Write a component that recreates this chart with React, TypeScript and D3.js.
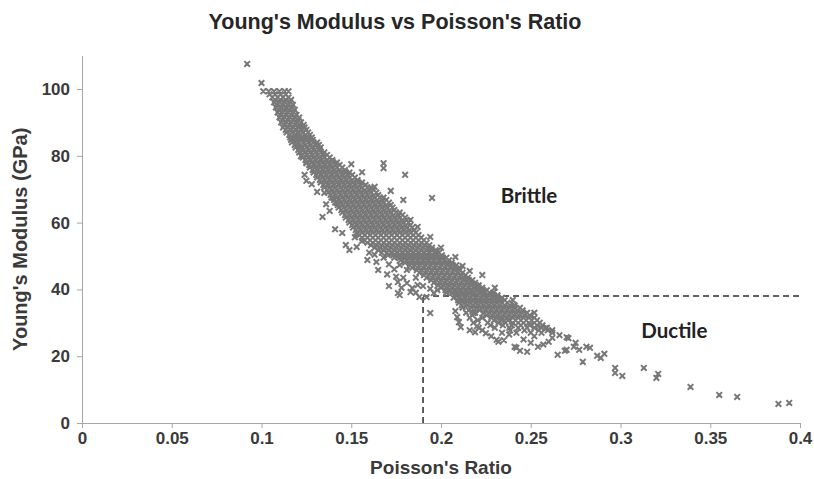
import React, { useEffect, useRef } from "react";
import * as d3 from "d3";

const X_TICKS = [0, 0.05, 0.1, 0.15, 0.2, 0.25, 0.3, 0.35, 0.4];
const X_TICK_LABELS = ["0", "0.05", "0.1", "0.15", "0.2", "0.25", "0.3", "0.35", "0.4"];
const Y_TICKS = [0, 20, 40, 60, 80, 100];
const Y_TICK_LABELS = ["0", "20", "40", "60", "80", "100"];

// dense part of the cloud, read level by level: [modulus, ratios at that level]
const BAND_ROWS: [number, number[]][] = [
  [99.3, [0.101, 0.104, 0.107, 0.110, 0.113, 0.115]],
  [97.5, [0.106, 0.109, 0.112, 0.115]],
  [96, [0.107, 0.110, 0.113, 0.116]],
  [94.5, [0.108, 0.111, 0.114, 0.117]],
  [93, [0.109, 0.112, 0.115, 0.118]],
  [91.5, [0.110, 0.113, 0.116, 0.119, 0.121]],
  [90, [0.111, 0.114, 0.117, 0.120, 0.122]],
  [88.5, [0.112, 0.115, 0.118, 0.121, 0.124]],
  [87, [0.114, 0.117, 0.120, 0.123, 0.126]],
  [85.5, [0.116, 0.119, 0.122, 0.125, 0.128]],
  [84, [0.117, 0.120, 0.123, 0.126, 0.129, 0.131]],
  [82.5, [0.119, 0.122, 0.125, 0.128, 0.131, 0.133]],
  [81, [0.121, 0.124, 0.127, 0.130, 0.133, 0.135]],
  [79.5, [0.123, 0.126, 0.129, 0.132, 0.135, 0.138]],
  [78, [0.125, 0.128, 0.131, 0.134, 0.137, 0.140, 0.142]],
  [76.5, [0.127, 0.130, 0.133, 0.136, 0.139, 0.142, 0.145]],
  [75, [0.129, 0.132, 0.135, 0.138, 0.141, 0.144, 0.147, 0.149]],
  [73.5, [0.131, 0.134, 0.137, 0.140, 0.143, 0.146, 0.149, 0.152]],
  [72, [0.133, 0.136, 0.139, 0.142, 0.145, 0.148, 0.151, 0.154, 0.156]],
  [70.5, [0.135, 0.138, 0.141, 0.144, 0.147, 0.150, 0.153, 0.156, 0.159, 0.161]],
  [69, [0.137, 0.140, 0.143, 0.146, 0.149, 0.152, 0.155, 0.158, 0.161, 0.164]],
  [67.5, [0.139, 0.142, 0.145, 0.148, 0.151, 0.154, 0.157, 0.160, 0.163, 0.166, 0.168]],
  [66, [0.141, 0.144, 0.147, 0.150, 0.153, 0.156, 0.159, 0.162, 0.165, 0.168, 0.171]],
  [64.5, [0.143, 0.146, 0.149, 0.152, 0.155, 0.158, 0.161, 0.164, 0.167, 0.170, 0.173]],
  [63, [0.145, 0.148, 0.151, 0.154, 0.157, 0.160, 0.163, 0.166, 0.169, 0.172, 0.175, 0.177]],
  [61.5, [0.147, 0.150, 0.153, 0.156, 0.159, 0.162, 0.165, 0.168, 0.171, 0.174, 0.177, 0.180]],
  [60, [0.149, 0.152, 0.155, 0.158, 0.161, 0.164, 0.167, 0.170, 0.173, 0.176, 0.179, 0.182]],
  [58.5, [0.151, 0.154, 0.157, 0.160, 0.163, 0.166, 0.169, 0.172, 0.175, 0.178, 0.181, 0.184]],
  [57, [0.153, 0.156, 0.159, 0.162, 0.165, 0.168, 0.171, 0.174, 0.177, 0.180, 0.183, 0.186]],
  [55.5, [0.156, 0.159, 0.162, 0.165, 0.168, 0.171, 0.174, 0.177, 0.180, 0.183, 0.186, 0.189]],
  [54, [0.159, 0.162, 0.165, 0.168, 0.171, 0.174, 0.177, 0.180, 0.183, 0.186, 0.189, 0.192]],
  [52.5, [0.163, 0.166, 0.169, 0.172, 0.175, 0.178, 0.181, 0.184, 0.187, 0.190, 0.193, 0.195]],
  [51, [0.167, 0.170, 0.173, 0.176, 0.179, 0.182, 0.185, 0.188, 0.191, 0.194, 0.197, 0.199]],
  [49.5, [0.174, 0.177, 0.180, 0.183, 0.186, 0.189, 0.192, 0.195, 0.198, 0.201, 0.203]],
  [48, [0.180, 0.183, 0.186, 0.189, 0.192, 0.195, 0.198, 0.201, 0.204, 0.206]],
  [46.5, [0.184, 0.187, 0.190, 0.193, 0.196, 0.199, 0.202, 0.205, 0.208, 0.210]],
  [45, [0.188, 0.191, 0.194, 0.197, 0.200, 0.203, 0.206, 0.209, 0.212]],
  [43.5, [0.192, 0.195, 0.198, 0.201, 0.204, 0.207, 0.210, 0.213, 0.215]],
  [42, [0.196, 0.199, 0.202, 0.205, 0.208, 0.211, 0.214, 0.217, 0.219]],
  [40.5, [0.200, 0.203, 0.206, 0.209, 0.212, 0.215, 0.218, 0.221, 0.223]],
  [39, [0.203, 0.206, 0.209, 0.212, 0.215, 0.218, 0.221, 0.224, 0.227, 0.229]],
  [37.5, [0.207, 0.210, 0.213, 0.216, 0.219, 0.222, 0.225, 0.228, 0.231, 0.234]],
  [36, [0.210, 0.213, 0.216, 0.219, 0.222, 0.225, 0.228, 0.231, 0.234, 0.237]],
  [34.5, [0.212, 0.217, 0.220, 0.223, 0.226, 0.229, 0.232, 0.235, 0.238, 0.241, 0.244]],
  [33, [0.214, 0.219, 0.224, 0.227, 0.230, 0.233, 0.236, 0.239, 0.242, 0.245, 0.248]],
  [31.5, [0.216, 0.223, 0.228, 0.231, 0.234, 0.237, 0.240, 0.243, 0.246, 0.249, 0.252]],
  [30, [0.218, 0.226, 0.232, 0.236, 0.240, 0.243, 0.246, 0.249, 0.252, 0.255]],
  [28.5, [0.221, 0.230, 0.238, 0.243, 0.248, 0.252, 0.256, 0.259]],
  [27, [0.234, 0.242, 0.250, 0.256, 0.262]],
];

// levels read between the rows above
const BAND_ROWS_MID: [number, number[]][] = [
  [98.4, [0.1045, 0.1075, 0.1105, 0.1135]],
  [96.75, [0.1075, 0.1105, 0.1135, 0.1165]],
  [95.25, [0.1085, 0.1115, 0.1145, 0.1175]],
  [93.75, [0.1095, 0.1125, 0.1155, 0.1185]],
  [92.25, [0.1105, 0.1135, 0.1165, 0.1195]],
  [90.75, [0.1115, 0.1145, 0.1175, 0.1205]],
  [89.25, [0.1125, 0.1155, 0.1185, 0.1215, 0.1235]],
  [87.75, [0.1135, 0.1165, 0.1195, 0.1225, 0.1250]],
  [86.25, [0.1155, 0.1185, 0.1215, 0.1245, 0.1270]],
  [84.75, [0.1165, 0.1195, 0.1225, 0.1255, 0.1285]],
  [83.25, [0.1185, 0.1215, 0.1245, 0.1275, 0.1305, 0.1320]],
  [81.75, [0.1205, 0.1235, 0.1265, 0.1295, 0.1325]],
  [80.25, [0.1225, 0.1255, 0.1285, 0.1315, 0.1345, 0.1365]],
  [78.75, [0.1245, 0.1275, 0.1305, 0.1335, 0.1365, 0.1395]],
  [77.25, [0.1265, 0.1295, 0.1325, 0.1355, 0.1385, 0.1415, 0.1435]],
  [75.75, [0.1285, 0.1315, 0.1345, 0.1375, 0.1405, 0.1435, 0.1465]],
  [74.25, [0.1305, 0.1335, 0.1365, 0.1395, 0.1425, 0.1455, 0.1485, 0.1505]],
  [72.75, [0.1325, 0.1355, 0.1385, 0.1415, 0.1445, 0.1475, 0.1505, 0.1535]],
  [71.25, [0.1345, 0.1375, 0.1405, 0.1435, 0.1465, 0.1495, 0.1525, 0.1555, 0.1580]],
  [69.75, [0.1365, 0.1395, 0.1425, 0.1455, 0.1485, 0.1515, 0.1545, 0.1575, 0.1605, 0.1625]],
  [68.25, [0.1385, 0.1415, 0.1445, 0.1475, 0.1505, 0.1535, 0.1565, 0.1595, 0.1625, 0.1650]],
  [66.75, [0.1405, 0.1435, 0.1465, 0.1495, 0.1525, 0.1555, 0.1585, 0.1615, 0.1645, 0.1675, 0.1695]],
  [65.25, [0.1425, 0.1455, 0.1485, 0.1515, 0.1545, 0.1575, 0.1605, 0.1635, 0.1665, 0.1695, 0.1720]],
  [63.75, [0.1445, 0.1475, 0.1505, 0.1535, 0.1565, 0.1595, 0.1625, 0.1655, 0.1685, 0.1715, 0.1740]],
  [62.25, [0.1465, 0.1495, 0.1525, 0.1555, 0.1585, 0.1615, 0.1645, 0.1675, 0.1705, 0.1735, 0.1765, 0.1785]],
  [60.75, [0.1485, 0.1515, 0.1545, 0.1575, 0.1605, 0.1635, 0.1665, 0.1695, 0.1725, 0.1755, 0.1785, 0.1810]],
  [59.25, [0.1505, 0.1535, 0.1565, 0.1595, 0.1625, 0.1655, 0.1685, 0.1715, 0.1745, 0.1775, 0.1805, 0.1830]],
  [57.75, [0.1525, 0.1555, 0.1585, 0.1615, 0.1645, 0.1675, 0.1705, 0.1735, 0.1765, 0.1795, 0.1825, 0.1850]],
  [56.25, [0.1545, 0.1575, 0.1605, 0.1635, 0.1665, 0.1695, 0.1725, 0.1755, 0.1785, 0.1815, 0.1845, 0.1875]],
  [54.75, [0.1575, 0.1605, 0.1635, 0.1665, 0.1695, 0.1725, 0.1755, 0.1785, 0.1815, 0.1845, 0.1875, 0.1905]],
  [53.25, [0.1610, 0.1640, 0.1670, 0.1700, 0.1730, 0.1760, 0.1790, 0.1820, 0.1850, 0.1880, 0.1910, 0.1935]],
  [51.75, [0.1650, 0.1680, 0.1710, 0.1740, 0.1770, 0.1800, 0.1830, 0.1860, 0.1890, 0.1920, 0.1950, 0.1970]],
  [50.25, [0.1705, 0.1735, 0.1765, 0.1795, 0.1825, 0.1855, 0.1885, 0.1915, 0.1945, 0.1975, 0.2005]],
  [48.75, [0.1775, 0.1805, 0.1835, 0.1865, 0.1895, 0.1925, 0.1955, 0.1985, 0.2015, 0.2045]],
  [47.25, [0.1825, 0.1855, 0.1885, 0.1915, 0.1945, 0.1975, 0.2005, 0.2035, 0.2065, 0.2085]],
  [45.75, [0.1865, 0.1895, 0.1925, 0.1955, 0.1985, 0.2015, 0.2045, 0.2075, 0.2105]],
  [44.25, [0.1905, 0.1935, 0.1965, 0.1995, 0.2025, 0.2055, 0.2085, 0.2115, 0.2135]],
  [42.75, [0.1945, 0.1975, 0.2005, 0.2035, 0.2065, 0.2095, 0.2125, 0.2155, 0.2175]],
  [41.25, [0.1985, 0.2015, 0.2045, 0.2075, 0.2105, 0.2135, 0.2165, 0.2195, 0.2210]],
  [39.75, [0.2025, 0.2055, 0.2085, 0.2115, 0.2145, 0.2175, 0.2205, 0.2235, 0.2255]],
  [38.25, [0.2085, 0.2115, 0.2145, 0.2175, 0.2205, 0.2235, 0.2265, 0.2295, 0.2315]],
  [36.75, [0.2095, 0.2125, 0.2155, 0.2185, 0.2215, 0.2245, 0.2275, 0.2305, 0.2335, 0.2355]],
  [35.25, [0.2115, 0.2145, 0.2175, 0.2205, 0.2235, 0.2265, 0.2295, 0.2325, 0.2355, 0.2385, 0.2410]],
  [33.75, [0.2155, 0.2215, 0.2245, 0.2275, 0.2305, 0.2335, 0.2365, 0.2395, 0.2425, 0.2455]],
  [32.25, [0.2175, 0.2255, 0.2285, 0.2315, 0.2345, 0.2375, 0.2405, 0.2435, 0.2465, 0.2495]],
  [30.75, [0.2205, 0.2295, 0.2335, 0.2375, 0.2415, 0.2445, 0.2475, 0.2505, 0.2535]],
  [29.25, [0.2275, 0.2345, 0.2395, 0.2445, 0.2495, 0.2535, 0.2565]],
  [27.75, [0.2385, 0.2465, 0.2545, 0.2595]],
];

const TOP_POINTS: [number, number][] = [
  [0.092, 107.5], [0.100, 101.8],
];

const UPPER_FRINGE: [number, number][] = [
  [0.150, 77.5], [0.156, 75.1], [0.168, 77.8], [0.168, 76.3], [0.180, 74.3],
  [0.163, 70.7], [0.172, 69.5], [0.179, 66.8], [0.195, 67.4], [0.183, 60.8],
  [0.187, 58.7], [0.194, 55.7], [0.200, 52.5], [0.208, 49.7], [0.212, 47.0],
  [0.216, 45.5], [0.223, 44.3], [0.230, 40.5], [0.240, 36.8], [0.252, 33.0],
];

const LOWER_FRINGE: [number, number][] = [
  [0.113, 93.5], [0.119, 86.0], [0.118, 84.5], [0.121, 82.6], [0.122, 79.9],
  [0.125, 77.8], [0.124, 74.3], [0.125, 72.5], [0.128, 71.5], [0.131, 69.2],
  [0.135, 68.9], [0.140, 67.4], [0.142, 65.9], [0.136, 65.5], [0.138, 63.5],
  [0.134, 61.7], [0.141, 58.0], [0.145, 56.9], [0.152, 55.6], [0.156, 54.5],
  [0.147, 53.3], [0.149, 51.8], [0.153, 52.7], [0.160, 51.0], [0.163, 50.4],
  [0.159, 48.8], [0.164, 48.2], [0.168, 49.5], [0.171, 47.5], [0.165, 45.8],
  [0.170, 44.5], [0.174, 46.0], [0.177, 47.3], [0.181, 45.8], [0.175, 43.8],
  [0.179, 43.5], [0.186, 43.5], [0.176, 42.2], [0.181, 41.9], [0.171, 41.0],
  [0.187, 41.3], [0.190, 41.0], [0.184, 40.4], [0.178, 40.5], [0.194, 40.2],
  [0.198, 39.8], [0.183, 39.2], [0.186, 39.0], [0.176, 38.9], [0.196, 38.9],
  [0.177, 38.3], [0.188, 37.7], [0.192, 37.7],
];

const BRANCH_POINTS: [number, number][] = [
  [0.194, 32.9], [0.208, 33.5], [0.209, 31.7], [0.210, 30.2], [0.211, 28.7],
  [0.218, 32.9], [0.220, 29.0], [0.216, 27.8], [0.219, 27.2], [0.223, 27.8],
  [0.225, 26.9], [0.228, 26.0], [0.231, 24.9], [0.232, 24.3], [0.235, 24.8],
  [0.238, 26.5], [0.241, 22.8], [0.242, 22.5], [0.244, 21.6], [0.246, 25.0],
  [0.248, 21.3], [0.250, 24.0], [0.252, 26.0], [0.254, 22.8], [0.257, 23.5],
  [0.260, 24.3], [0.262, 25.5], [0.262, 27.8], [0.258, 28.4], [0.266, 26.3],
  [0.270, 25.7], [0.271, 25.4], [0.265, 20.4], [0.269, 21.6], [0.270, 21.9],
  [0.274, 22.8], [0.275, 24.0], [0.277, 21.9], [0.281, 22.8], [0.283, 22.5],
  [0.287, 20.1], [0.289, 19.5], [0.291, 20.7], [0.279, 18.3],
];

const DUCTILE_TAIL: [number, number][] = [
  [0.297, 16.5], [0.297, 15.0], [0.301, 14.1], [0.313, 16.5], [0.321, 14.7],
  [0.320, 13.5], [0.339, 10.8], [0.355, 8.4], [0.365, 7.8], [0.388, 5.7],
  [0.394, 6.0],
];

// brittle / ductile cut-off
const CUT_RATIO = 0.19;
const CUT_MODULUS = 38;

const FONT = "'Liberation Sans', Arial, sans-serif";
const LABEL_FONT = "Lato, 'Open Sans', sans-serif";
const AXIS_COLOR = "#a6a6a6";
const TEXT_COLOR = "#3a3a3a";
const MARKER_COLOR = "#787878";

export default function App() {
  const svgRef = useRef<SVGSVGElement>(null);

  useEffect(() => {
    const svg = d3.select(svgRef.current);
    svg.selectAll("*").remove();

    const x = d3.scaleLinear().domain([0, 0.4]).range([82, 800]);
    const y = d3.scaleLinear().domain([0, 110]).range([423, 55.6]);

    // axes
    const gx = svg.append("g")
      .attr("transform", `translate(0,${y(0)})`)
      .call(
        d3.axisBottom(x).tickValues(X_TICKS).tickSize(5).tickPadding(4)
          .tickFormat((_d, i) => X_TICK_LABELS[i])
      );
    const gy = svg.append("g")
      .attr("transform", `translate(${x(0)},0)`)
      .call(
        d3.axisLeft(y).tickValues(Y_TICKS).tickSize(5).tickSizeOuter(0).tickPadding(7)
          .tickFormat((_d, i) => Y_TICK_LABELS[i])
      );
    [gx, gy].forEach(g => {
      g.select(".domain").attr("stroke", AXIS_COLOR);
      g.selectAll(".tick line").attr("stroke", AXIS_COLOR);
      g.selectAll("text")
        .attr("font-family", FONT).attr("font-weight", "bold")
        .attr("font-size", 17).attr("fill", TEXT_COLOR);
    });

    // cut-off lines
    const dash = svg.append("g")
      .attr("stroke", "#2b2b2b").attr("stroke-width", 1.5)
      .attr("stroke-dasharray", "6 4").attr("fill", "none");
    dash.append("line")
      .attr("x1", x(CUT_RATIO)).attr("x2", x(CUT_RATIO))
      .attr("y1", y(0)).attr("y2", y(CUT_MODULUS));
    dash.append("line")
      .attr("x1", x(CUT_RATIO)).attr("x2", x(0.4))
      .attr("y1", y(CUT_MODULUS)).attr("y2", y(CUT_MODULUS));

    // points
    const rows = [...BAND_ROWS, ...BAND_ROWS_MID];
    const points: [number, number][] = [
      ...rows.flatMap(([m, rs]) => rs.map(r => [r, m] as [number, number])),
      ...TOP_POINTS, ...UPPER_FRINGE, ...LOWER_FRINGE, ...BRANCH_POINTS, ...DUCTILE_TAIL,
    ];
    const r = 2.8;
    const path = d3.path();
    points.forEach(([px, py]) => {
      const cx = x(px), cy = y(py);
      path.moveTo(cx - r, cy - r); path.lineTo(cx + r, cy + r);
      path.moveTo(cx - r, cy + r); path.lineTo(cx + r, cy - r);
    });
    svg.append("path")
      .attr("d", path.toString())
      .attr("fill", "none").attr("stroke", MARKER_COLOR).attr("stroke-width", 2);

    // titles
    svg.append("text")
      .attr("x", 395).attr("y", 29).attr("text-anchor", "middle")
      .attr("font-family", FONT).attr("font-weight", "bold").attr("font-size", 21.5)
      .attr("fill", "#262626")
      .text("Young's Modulus vs Poisson's Ratio");
    svg.append("text")
      .attr("x", 441).attr("y", 474).attr("text-anchor", "middle")
      .attr("font-family", FONT).attr("font-weight", "bold").attr("font-size", 19)
      .attr("fill", TEXT_COLOR)
      .text("Poisson's Ratio");
    svg.append("text")
      .attr("transform", `translate(27,${(y(0) + y(110)) / 2}) rotate(-90)`)
      .attr("text-anchor", "middle")
      .attr("font-family", FONT).attr("font-weight", "bold").attr("font-size", 20)
      .attr("fill", TEXT_COLOR)
      .text("Young's Modulus (GPa)");

    // region labels
    svg.append("text")
      .attr("x", x(0.249)).attr("y", y(66)).attr("text-anchor", "middle")
      .attr("font-family", LABEL_FONT).attr("font-weight", "bold").attr("font-size", 20.5)
      .attr("fill", "#222")
      .text("Brittle");
    svg.append("text")
      .attr("x", x(0.330)).attr("y", y(25.3)).attr("text-anchor", "middle")
      .attr("font-family", LABEL_FONT).attr("font-weight", "bold").attr("font-size", 20.5)
      .attr("fill", "#222")
      .text("Ductile");
  }, []);

  return (
    <svg
      ref={svgRef}
      width={814}
      height={479}
      style={{ position: "absolute", left: 0, top: 0, background: "#fff" }}
    />
  );
}
